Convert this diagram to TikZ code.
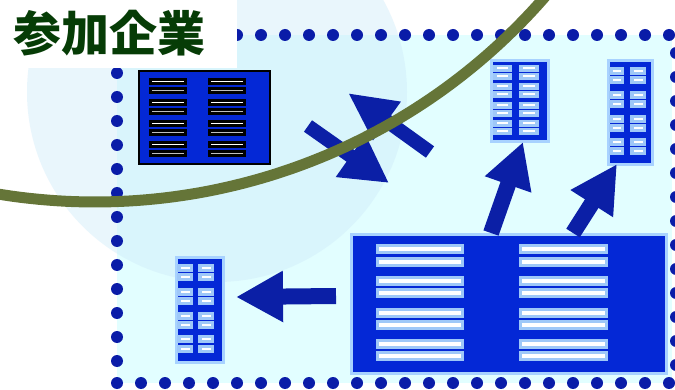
\documentclass[tikz,border=0pt]{standalone}
\usepackage{fontspec}
\newfontfamily\cjk{Noto Sans CJK JP}
\usetikzlibrary{arrows.meta}

\definecolor{zonefill}{HTML}{E2FEFF}
\definecolor{halofill}{HTML}{D0ECFA}
\definecolor{dotblue}{HTML}{0A1CA8}
\definecolor{arrowblue}{HTML}{0B1FA6}
\definecolor{rackblue}{HTML}{0428D6}
\definecolor{rackedge}{HTML}{A8D2FF}
\definecolor{slotfill}{HTML}{9EC8F8}
\definecolor{pathgreen}{HTML}{657538}
\definecolor{titlegreen}{HTML}{063C06}

\tikzset{
  zone/.style={fill=zonefill},
  halo/.style={fill=halofill, fill opacity=0.45},
  dotmark/.style={fill=dotblue},
  rack/.style={draw=rackedge, line width=3pt, fill=rackblue, inner sep=0pt, rectangle},
  darkrack/.style={draw=black, line width=2pt, fill=rackblue, inner sep=0pt, rectangle},
  slotlight/.style={fill=slotfill},
  slotdark/.style={fill=black},
  bigarrow/.style={draw=arrowblue, line width=#1},
  route/.style={draw=pathgreen, line width=11pt},
  title/.style={text=titlegreen, font=\cjk\bfseries\fontsize{48}{48}\selectfont, inner sep=0pt, anchor=base west}
}

% a rack drawn as a named node spanning the corners (x0,y0)-(x1,y1)
\newcommand\rackbox[6]{%
  \node[#1, minimum width={(#5)-(#3)}, minimum height={(#6)-(#4)}, anchor=north west] (#2) at (#3,#4) {};}

% light slots: \lightslots{x0}{x1}{x2}{x3}{height}{list of tops}{inset}
\newcommand\lightslots[7]{%
  \foreach \t in {#6}{%
    \fill[slotlight] (#1,\t) rectangle (#2,\t+#5);
    \fill[slotlight] (#3,\t) rectangle (#4,\t+#5);
    \fill[white] (#1+#7,\t+#5/2-1) rectangle (#2-#7,\t+#5/2+1);
    \fill[white] (#3+#7,\t+#5/2-1) rectangle (#4-#7,\t+#5/2+1);
  }}

\begin{document}
\begin{tikzpicture}[x=1pt, y=-1pt]
\useasboundingbox (0,0) rectangle (675,390);
\clip (0,0) rectangle (675,390);
\fill[white] (0,0) rectangle (675,390);

% company zone and the soft round area behind it
\fill[zone] (117,35) rectangle (672,383);
\fill[halo] (217,92) circle[radius=190];

% dotted border of the zone
\foreach \i in {0,...,23} \fill[dotmark] (117+24*\i,383) circle[radius=6pt];
\foreach \i in {0,...,18} \fill[dotmark] (237+24*\i,35) circle[radius=6pt];
\foreach \i in {-1,...,12} \fill[dotmark] (117,73+24*\i) circle[radius=6pt];
\foreach \i in {0,...,13} \fill[dotmark] (676,53+24*\i) circle[radius=6pt];

% title area
\fill[white] (0,0) rectangle (236.5,68);

% top-left rack (black frame)
\rackbox{darkrack}{rackA}{138}{70}{269}{163}
\foreach \t in {78,99,120,141}{%
  \foreach \a/\b in {149/187,208/246}{%
    \fill[slotdark] (\a,\t) rectangle (\b,\t+7);
    \fill[slotdark] (\a,\t+9) rectangle (\b,\t+16);
    \fill[white] (\a+3,\t+2.6) rectangle (\b-3,\t+4.4);
    \fill[black!25] (\a+3,\t+11.6) rectangle (\b-3,\t+13.4);
  }}

% top-middle rack
\rackbox{rack}{rackB}{489.5}{59.5}{546.5}{140.5}
\lightslots{493}{512}{519}{539}{7}{65,73,83,91,102,110,120,128}{4}

% top-right rack
\rackbox{rack}{rackC}{606.5}{59.5}{650.5}{163.5}
\lightslots{609}{624}{630}{646}{8}{67,76.5,91,100,115,124,138,147.5}{3.5}

% bottom-left rack
\rackbox{rack}{rackD}{174.5}{256.5}{221.5}{360.5}
\lightslots{177}{193}{198}{214}{8}{264,273,288,297,312,321,335,344.5}{3.5}

% large rack
\rackbox{rack}{rackE}{349.5}{233.5}{664.5}{371.5}
\foreach \t in {244,257,276,288,308,320,339,351}{%
  \foreach \a/\b in {376/464,519/608}{%
    \fill[slotlight] (\a,\t) rectangle (\b,\t+10);
    \fill[white] (\a+3,\t+2.6) rectangle (\b-3,\t+7.4);
  }}

% arrow end points
\coordinate (eL) at (336,296);
\coordinate (dR) at (236,297);
\coordinate (eB) at (491,233);
\coordinate (bB) at (523,142);
\coordinate (eC) at (573,233);
\coordinate (cB) at (617,164);
\coordinate (xA) at (308,126);
\coordinate (xB) at (389,183);
\coordinate (yA) at (430,152);
\coordinate (yB) at (348,93);

% block arrows
\draw[bigarrow=16pt, -{Triangle[length=47pt, width=48pt]}] (eL) -- (dR);
\draw[bigarrow=16pt, -{Triangle[length=45pt, width=46pt]}] (eB) -- (bB);
\draw[bigarrow=16pt, -{Triangle[length=47pt, width=47pt]}] (eC) -- (cB);
\draw[bigarrow=14pt, -{Triangle[length=47pt, width=48pt]}] (xA) -- (xB);
\draw[bigarrow=14pt, -{Triangle[length=48pt, width=44pt]}] (yA) -- (yB);

% boundary curve
\draw[route] plot[domain=36:104, samples=80] ({95+596*cos(\x)}, {-394+596*sin(\x)});

% title
\node[title] (heading) at (13,52) {参加企業};
\end{tikzpicture}
\end{document}
